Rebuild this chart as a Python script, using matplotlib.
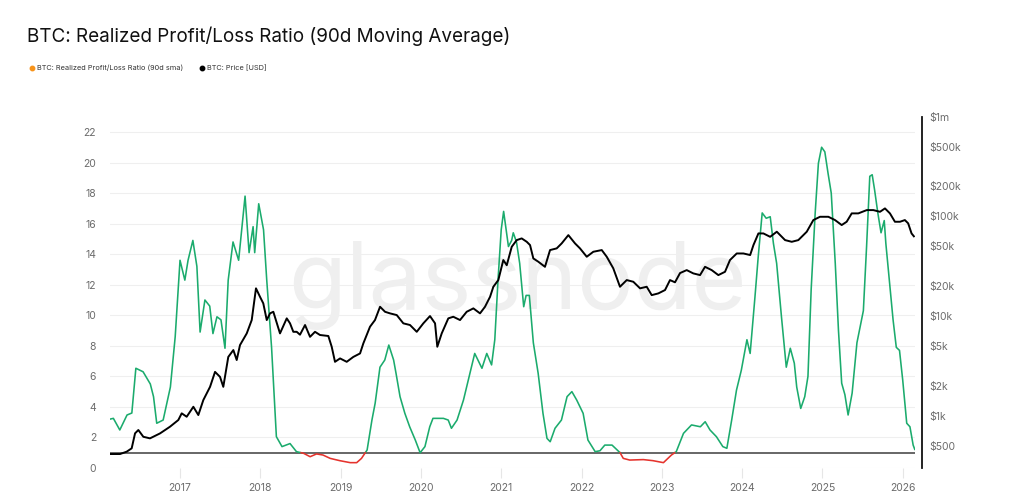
import numpy as np
import matplotlib
matplotlib.use("Agg")
import matplotlib.pyplot as plt
from matplotlib.lines import Line2D
from matplotlib.ticker import FixedLocator, NullLocator

plt.rcParams['font.family'] = ['Inter', 'DejaVu Sans']

# ---------------- data ----------------
ratio_t = [2016.12, 2016.17, 2016.25, 2016.34, 2016.40, 2016.45, 2016.54, 2016.63, 2016.67, 2016.71,
           2016.79, 2016.88, 2016.94, 2017.00, 2017.06, 2017.10, 2017.16, 2017.21, 2017.25, 2017.31,
           2017.37, 2017.41, 2017.46, 2017.51, 2017.56, 2017.60, 2017.66, 2017.73, 2017.81, 2017.86,
           2017.91, 2017.93, 2017.98, 2018.04, 2018.08, 2018.14, 2018.20, 2018.27, 2018.37, 2018.45,
           2018.54, 2018.62, 2018.70, 2018.78, 2018.87, 2018.99, 2019.12, 2019.20, 2019.26, 2019.33,
           2019.39, 2019.43, 2019.49, 2019.55, 2019.60, 2019.66, 2019.69, 2019.74, 2019.80, 2019.86,
           2019.93, 2019.99, 2020.05, 2020.11, 2020.15, 2020.28, 2020.34, 2020.38, 2020.45, 2020.53,
           2020.61, 2020.67, 2020.76, 2020.82, 2020.88, 2020.92, 2020.96, 2021.00, 2021.03, 2021.09,
           2021.13, 2021.15, 2021.19, 2021.23, 2021.28, 2021.31, 2021.35, 2021.40, 2021.46, 2021.52,
           2021.57, 2021.61, 2021.67, 2021.75, 2021.82, 2021.88, 2021.94, 2022.02, 2022.08, 2022.17,
           2022.23, 2022.29, 2022.38, 2022.48, 2022.52, 2022.60, 2022.77, 2022.89, 2023.02, 2023.12,
           2023.18, 2023.27, 2023.37, 2023.48, 2023.54, 2023.60, 2023.68, 2023.76, 2023.81, 2023.87,
           2023.93, 2023.99, 2024.06, 2024.10, 2024.16, 2024.20, 2024.25, 2024.30, 2024.35, 2024.39,
           2024.43, 2024.49, 2024.55, 2024.60, 2024.65, 2024.68, 2024.73, 2024.78, 2024.82, 2024.86,
           2024.91, 2024.95, 2024.99, 2025.03, 2025.07, 2025.11, 2025.16, 2025.20, 2025.24, 2025.28,
           2025.32, 2025.37, 2025.43, 2025.51, 2025.55, 2025.59, 2025.62, 2025.65, 2025.69, 2025.73,
           2025.77, 2025.79, 2025.84, 2025.88, 2025.92, 2025.96, 2026.00, 2026.05, 2026.09, 2026.13,
           2026.15]
ratio_v = [3.19, 3.25, 2.49, 3.47, 3.6, 6.53, 6.3, 5.5, 4.67, 2.93,
           3.14, 5.3, 8.6, 13.6, 12.3, 13.6, 14.9, 13.2, 8.9, 11.0,
           10.6, 8.8, 9.9, 9.7, 7.84, 12.3, 14.8, 13.6, 17.8, 14.1,
           15.8, 14.1, 17.3, 15.6, 12.3, 7.9, 2.05, 1.4, 1.6, 1.07,
           0.96, 0.74, 0.92, 0.85, 0.63, 0.48, 0.35, 0.35, 0.63, 1.18,
           3.14, 4.24, 6.6, 7.07, 8.05, 7.07, 6.2, 4.67, 3.58, 2.7,
           1.83, 1.0, 1.4, 2.7, 3.25, 3.25, 3.14, 2.6, 3.14, 4.45,
           6.2, 7.5, 6.53, 7.5, 6.75, 8.4, 12.3, 15.6, 16.8, 14.5,
           14.9, 15.4, 14.8, 13.4, 10.56, 11.3, 11.3, 8.2, 6.2, 3.58,
           1.94, 1.72, 2.6, 3.14, 4.67, 5.0, 4.45, 3.58, 1.83, 1.07,
           1.13, 1.5, 1.5, 1.0, 0.63, 0.52, 0.55, 0.48, 0.35, 0.85,
           1.07, 2.27, 2.82, 2.7, 3.03, 2.49, 2.05, 1.4, 1.29, 3.14,
           5.1, 6.4, 8.4, 7.5, 11.2, 13.8, 16.7, 16.35, 16.45, 14.7,
           13.4, 9.9, 6.6, 7.84, 6.86, 5.3, 3.9, 4.67, 6.0, 11.7,
           16.7, 19.95, 21.0, 20.7, 19.3, 18.0, 13.4, 9.0, 5.55, 4.8,
           3.47, 4.9, 8.2, 10.3, 14.5, 19.1, 19.2, 18.2, 16.7, 15.4,
           16.2, 14.7, 11.9, 9.7, 7.9, 7.7, 5.76, 2.93, 2.7, 1.5,
           1.22]

price_t = [2016.128, 2016.253, 2016.336, 2016.398, 2016.440, 2016.481, 2016.543, 2016.626, 2016.751, 2016.875,
           2016.979, 2017.021, 2017.083, 2017.166, 2017.228, 2017.290, 2017.374, 2017.436, 2017.498, 2017.539,
           2017.601, 2017.664, 2017.706, 2017.747, 2017.831, 2017.893, 2017.946, 2017.996, 2018.037, 2018.080,
           2018.121, 2018.162, 2018.245, 2018.329, 2018.370, 2018.411, 2018.453, 2018.494, 2018.557, 2018.619,
           2018.681, 2018.743, 2018.847, 2018.889, 2018.930, 2018.993, 2019.076, 2019.158, 2019.242, 2019.283,
           2019.366, 2019.428, 2019.491, 2019.553, 2019.615, 2019.699, 2019.781, 2019.864, 2019.948, 2020.030,
           2020.113, 2020.176, 2020.204, 2020.259, 2020.341, 2020.403, 2020.487, 2020.570, 2020.653, 2020.736,
           2020.798, 2020.861, 2020.902, 2020.964, 2021.026, 2021.069, 2021.131, 2021.193, 2021.255, 2021.318,
           2021.359, 2021.400, 2021.462, 2021.545, 2021.608, 2021.691, 2021.753, 2021.836, 2021.919, 2021.981,
           2022.065, 2022.147, 2022.252, 2022.314, 2022.396, 2022.479, 2022.563, 2022.645, 2022.729, 2022.812,
           2022.874, 2022.956, 2023.040, 2023.102, 2023.164, 2023.227, 2023.310, 2023.392, 2023.476, 2023.538,
           2023.621, 2023.704, 2023.787, 2023.849, 2023.933, 2024.016, 2024.100, 2024.141, 2024.203, 2024.265,
           2024.349, 2024.432, 2024.535, 2024.618, 2024.700, 2024.805, 2024.887, 2024.970, 2025.074, 2025.157,
           2025.240, 2025.302, 2025.365, 2025.447, 2025.552, 2025.634, 2025.717, 2025.779, 2025.841, 2025.903,
           2025.966, 2026.027, 2026.068, 2026.110, 2026.139]
price_v = [413, 413, 436, 471, 666, 719, 615, 593, 665, 776,
           906, 1057, 977, 1230, 1016, 1435, 1950, 2754, 2455, 1950,
           3890, 4560, 3622, 5117, 6699, 9120, 18970, 15600, 13400, 9120,
           10640, 11040, 6699, 9480, 8450, 6950, 6950, 6500, 8130, 6190,
           6950, 6456, 6310, 4920, 3475, 3758, 3475, 3890, 4217, 5320,
           7816, 9120, 12390, 11040, 10640, 10230, 8450, 8130, 6950, 8450,
           10000, 8450, 4920, 6699, 9480, 9840, 9120, 11040, 11940, 10640,
           12390, 15600, 19680, 22960, 36480, 32360, 49550, 57810, 60120, 55590,
           51520, 37840, 35070, 31190, 45920, 47750, 53580, 64860, 53580, 47750,
           39360, 44160, 45920, 39360, 30060, 19680, 22960, 22080, 18970, 19680,
           16220, 16870, 18240, 22960, 21800, 27000, 28910, 26790, 25760, 31190,
           28910, 25760, 27800, 36480, 42460, 42460, 40930, 51520, 67450, 67450,
           62370, 70150, 57810, 55590, 57810, 70150, 91830, 99080, 99080, 91830,
           81850, 88310, 107150, 107150, 115610, 115610, 111170, 120230, 107150, 88310,
           88310, 91830, 85110, 67450, 63100]

left_ticks = [0, 2, 4, 6, 8, 10, 12, 14, 16, 18, 20, 22]
year_ticks = [2017, 2018, 2019, 2020, 2021, 2022, 2023, 2024, 2025, 2026]
price_ticks = [500, 1e3, 2e3, 5e3, 1e4, 2e4, 5e4, 1e5, 2e5, 5e5, 1e6]
price_labels = ['$500', '$1k', '$2k', '$5k', '$10k', '$20k', '$50k', '$100k', '$200k', '$500k', '$1m']

GREEN = '#1bab6d'
RED = '#e5332d'
ORANGE = '#f7931a'
TICK_GREY = '#6b6b6b'

# split ratio line at threshold 1
def split_at(t, v, thr):
    xs, ys = [t[0]], [v[0]]
    for i in range(1, len(t)):
        a, b = v[i - 1] - thr, v[i] - thr
        if a * b < 0:
            f = (thr - v[i - 1]) / (v[i] - v[i - 1])
            xs.append(t[i - 1] + f * (t[i] - t[i - 1]))
            ys.append(thr)
        xs.append(t[i]); ys.append(v[i])
    xs, ys = np.array(xs), np.array(ys)
    return xs, np.where(ys >= thr, ys, np.nan), np.where(ys <= thr, ys, np.nan)

fig = plt.figure(figsize=(10.24, 5.01), dpi=100)
ax = fig.add_axes([110 / 1024, 33 / 501, 805 / 1024, 351.3 / 501])
ax2 = ax.twinx()

xmin, xmax = 2016.128, 2026.153
ax.set_xlim(xmin, xmax)
ax.set_ylim(0, 23)

# grid
for yv in left_ticks:
    ax.axhline(yv, color='#efefef', lw=0.8, zorder=0)

# watermark
ax.text(0.506, 0.52, 'glassnode', transform=ax.transAxes, fontsize=68, color='#efefef',
        ha='center', va='center', zorder=0)

xs, above, below = split_at(ratio_t, ratio_v, 1.0)
ax.plot(xs, above, color=GREEN, lw=1.15, zorder=3, solid_joinstyle='round')
ax.plot(xs, below, color=RED, lw=1.15, zorder=3, solid_joinstyle='round')
ax.axhline(1.0, color='#5a5a5a', lw=1.3, zorder=2)

ax2.plot(price_t, price_v, color='black', lw=1.4, zorder=3)
ax2.set_yscale('log')
ax2.set_ylim(299, 1e6)
ax2.yaxis.set_major_locator(FixedLocator(price_ticks))
ax2.yaxis.set_minor_locator(NullLocator())
ax2.set_yticklabels(price_labels)

for a in (ax, ax2):
    for s in ('top', 'left', 'bottom', 'right'):
        a.spines[s].set_visible(False)
ax2.spines['right'].set_visible(True)
ax2.spines['right'].set_position(('outward', 5))
ax2.spines['right'].set_color('#111111')
ax2.spines['right'].set_linewidth(1.3)

ax.set_yticks(left_ticks)
ax.set_yticklabels([str(v) for v in left_ticks])
ax.tick_params(axis='y', length=0, pad=10, labelsize=7.5, labelcolor=TICK_GREY)
ax2.tick_params(axis='y', length=0, pad=5, labelsize=7.5, labelcolor=TICK_GREY)
ax.set_xticks(year_ticks)
ax.set_xticklabels([str(y) for y in year_ticks])
ax.tick_params(axis='x', length=7, width=0.8, color='#e6e6e6', pad=4, labelsize=7.5,
               labelcolor=TICK_GREY)

# title & legend
fig.text(27 / 1024, 1 - 36 / 501, 'BTC: Realized Profit/Loss Ratio (90d Moving Average)',
         fontsize=13.6, color='#111111', ha='left', va='center')
ly = 1 - 68 / 501
fig.add_artist(Line2D([32 / 1024], [ly], marker='o', markersize=3.2, color=ORANGE,
                      linestyle='none', transform=fig.transFigure))
fig.text(37 / 1024, ly, 'BTC: Realized Profit/Loss Ratio (90d sma)', fontsize=5.3, color='#333333',
         ha='left', va='center')
fig.add_artist(Line2D([202 / 1024], [ly], marker='o', markersize=3.2, color='black',
                      linestyle='none', transform=fig.transFigure))
fig.text(207 / 1024, ly, 'BTC: Price [USD]', fontsize=5.3, color='#333333', ha='left', va='center')

fig.savefig('out.png', dpi=100)
